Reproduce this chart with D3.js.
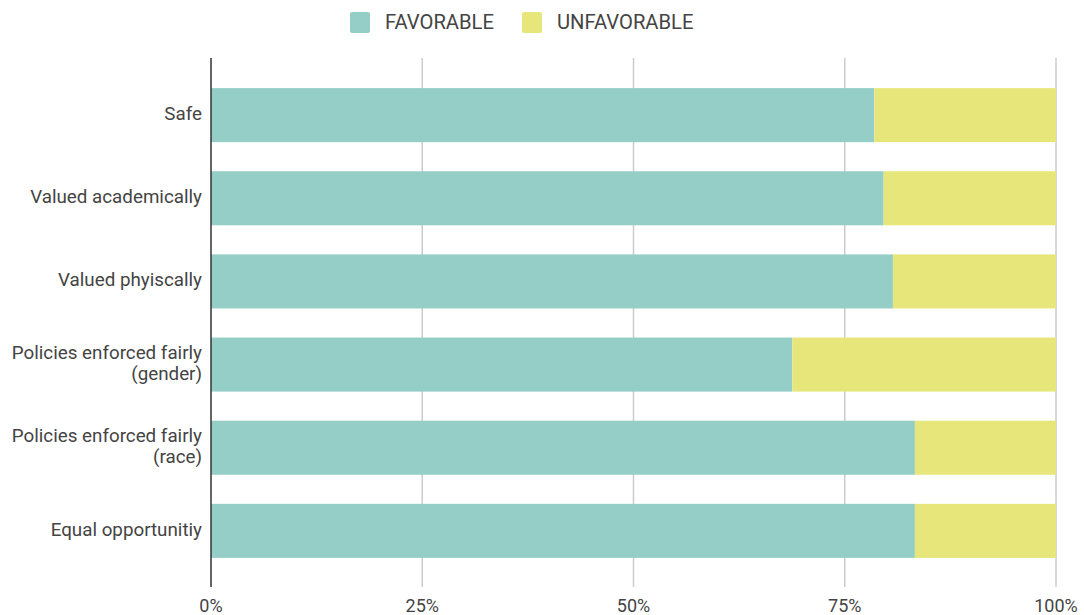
<!DOCTYPE html>
<html>
<head>
<meta charset="utf-8">
<script src="https://cdn.jsdelivr.net/npm/d3@7"></script>
<style>
  html, body { margin: 0; padding: 0; background: #fff; }
  svg { display: block; font-family: Roboto, "Noto Sans", sans-serif; }
</style>
</head>
<body>
<svg id="chart" width="1084" height="615"></svg>
<script>
// Survey items (top to bottom); multi-line labels split on "\n"
const categories = [
  "Safe",
  "Valued academically",
  "Valued phyiscally",
  "Policies enforced fairly\n(gender)",
  "Policies enforced fairly\n(race)",
  "Equal opportunitiy"
];
// Share of responses, in percent
const favorable   = [78.5, 79.6, 80.7, 68.8, 83.3, 83.3];
const unfavorable = [21.5, 20.4, 19.3, 31.2, 16.7, 16.7];
const seriesNames = ["FAVORABLE", "UNFAVORABLE"];
const seriesColors = ["#94cec6", "#e6e67a"];
const tickValues = [0, 25, 50, 75, 100];

const svg = d3.select("#chart");
const margin = { left: 211, right: 28, top: 59, bottom: 28 };
const W = 1084, H = 615;

const x = d3.scaleLinear().domain([0, 100]).range([margin.left, W - margin.right]);
const y = d3.scaleBand()
  .domain(categories)
  .range([margin.top, H - margin.bottom])
  .paddingInner(0.35)
  .paddingOuter(0.35);

const textColor = "#444";

// Vertical gridlines
svg.append("g")
  .selectAll("line")
  .data(tickValues.filter(d => d > 0))
  .join("line")
  .attr("x1", d => x(d)).attr("x2", d => x(d))
  .attr("y1", margin.top - 1).attr("y2", H - margin.bottom)
  .attr("stroke", "#cccccc").attr("stroke-width", 1.5);

// Stacked bars
const rows = categories.map((c, i) => ({ cat: c, fav: favorable[i], unf: unfavorable[i] }));
const stack = d3.stack().keys(["fav", "unf"])(rows);

svg.append("g")
  .selectAll("g")
  .data(stack)
  .join("g")
  .attr("fill", (d, i) => seriesColors[i])
  .selectAll("rect")
  .data(d => d)
  .join("rect")
  .attr("x", d => x(d[0]))
  .attr("width", d => x(d[1]) - x(d[0]))
  .attr("y", d => y(d.data.cat))
  .attr("height", y.bandwidth());

// Left axis line
svg.append("line")
  .attr("x1", x(0)).attr("x2", x(0))
  .attr("y1", margin.top - 1).attr("y2", H - margin.bottom)
  .attr("stroke", "#333").attr("stroke-width", 1.5);

// Category labels
const catLabels = svg.append("g")
  .selectAll("text")
  .data(categories)
  .join("text")
  .attr("x", x(0) - 9)
  .attr("y", d => y(d) + y.bandwidth() / 2)
  .attr("text-anchor", "end")
  .attr("fill", textColor)
  .attr("font-size", 18.8);

catLabels.each(function(d) {
  const lines = d.split("\n");
  const t = d3.select(this);
  const lh = 21.5;
  lines.forEach((ln, k) => {
    t.append("tspan")
      .attr("x", x(0) - 9)
      .attr("dy", k === 0 ? (-(lines.length - 1) * lh / 2 + 5) : lh)
      .text(ln);
  });
});

// Percent tick labels
svg.append("g")
  .selectAll("text")
  .data(tickValues)
  .join("text")
  .attr("x", d => x(d))
  .attr("y", 612)
  .attr("text-anchor", "middle")
  .attr("fill", textColor)
  .attr("font-size", 18)
  .text(d => d + "%");

// Legend
const legend = svg.append("g");
const legendItems = [
  { name: seriesNames[0], color: seriesColors[0], x: 350 },
  { name: seriesNames[1], color: seriesColors[1], x: 522 }
];
legendItems.forEach(it => {
  legend.append("rect")
    .attr("x", it.x).attr("y", 12)
    .attr("width", 20).attr("height", 21)
    .attr("rx", 2)
    .attr("fill", it.color);
  legend.append("text")
    .attr("x", it.x + 35).attr("y", 29)
    .attr("fill", textColor)
    .attr("font-size", 20.2)
    .text(it.name);
});
</script>
</body>
</html>
